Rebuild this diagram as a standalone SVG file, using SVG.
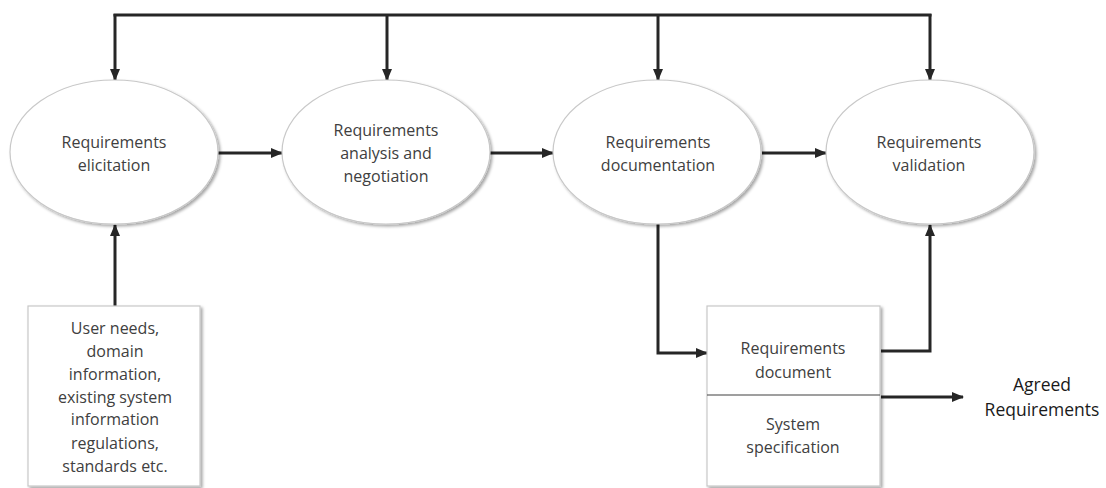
<svg xmlns="http://www.w3.org/2000/svg" width="1106" height="488" viewBox="0 0 1106 488">
<style>
.node ellipse, .node rect { fill: #ffffff; stroke: #c8c8c8; stroke-width: 1.2; filter: url(#sh); }
.t { font-family: "Open Sans", "Liberation Sans", sans-serif; font-size: 16px; fill: #404040; text-anchor: middle; }
.t2 { font-family: "Open Sans", "Liberation Sans", sans-serif; font-size: 17.5px; fill: #1a1a1a; text-anchor: middle; }
.c { fill: none; stroke: #262626; stroke-width: 3; marker-end: url(#ah); }
.cl { fill: none; stroke: #262626; stroke-width: 3; }
</style>
<defs>
<filter id="sh" x="-10%" y="-10%" width="125%" height="125%">
<feDropShadow dx="2" dy="2" stdDeviation="1.5" flood-color="#000" flood-opacity="0.35"/>
</filter>
<marker id="ah" markerUnits="userSpaceOnUse" markerWidth="12" markerHeight="12" viewBox="0 0 12 12" refX="11" refY="6" orient="auto">
<path d="M0,1 L12,6 L0,11 Z" fill="#262626"/>
</marker>
</defs>
<rect width="1106" height="488" fill="#ffffff"/>

<g id="connectors">
<path class="cl" d="M113.5,15 H931.5"/>
<path class="c" d="M115,14 V80"/>
<path class="c" d="M387,15 V80"/>
<path class="c" d="M658,15 V80"/>
<path class="c" d="M930,14 V80"/>
<path class="c" d="M218,153 H282"/>
<path class="c" d="M490,153 H553"/>
<path class="c" d="M762,153 H826"/>
<path class="c" d="M115,306 V225"/>
<path class="c" d="M658,224 V353 H707"/>
<path class="c" d="M881,351 H930 V225"/>
<path class="c" d="M881,397 H963"/>
</g>

<g id="elicitation" class="node">
<ellipse cx="114" cy="152" rx="104" ry="72"/>
<text class="t" x="114" y="148">Requirements</text>
<text class="t" x="114" y="171">elicitation</text>
</g>
<g id="analysis" class="node">
<ellipse cx="386" cy="152" rx="104" ry="72"/>
<text class="t" x="386" y="136">Requirements</text>
<text class="t" x="386" y="159">analysis and</text>
<text class="t" x="386" y="182">negotiation</text>
</g>
<g id="documentation" class="node">
<ellipse cx="657" cy="152" rx="104" ry="72"/>
<text class="t" x="658" y="148">Requirements</text>
<text class="t" x="658" y="171">documentation</text>
</g>
<g id="validation" class="node">
<ellipse cx="930" cy="152" rx="104" ry="72"/>
<text class="t" x="929" y="148">Requirements</text>
<text class="t" x="929" y="171">validation</text>
</g>

<g id="inputs" class="node">
<rect x="28" y="306" width="172" height="180"/>
<text class="t" x="115" y="334">User needs,</text>
<text class="t" x="115" y="357">domain</text>
<text class="t" x="115" y="380">information,</text>
<text class="t" x="115" y="403">existing system</text>
<text class="t" x="115" y="425">information</text>
<text class="t" x="115" y="449">regulations,</text>
<text class="t" x="115" y="472">standards etc.</text>
</g>

<g id="document" class="node">
<rect x="707" y="306" width="173" height="180"/>
<line x1="707" y1="395" x2="880" y2="395" stroke="#404040" stroke-width="1.2"/>
<text class="t" x="793" y="354">Requirements</text>
<text class="t" x="793" y="378">document</text>
<text class="t" x="793" y="430">System</text>
<text class="t" x="793" y="453">specification</text>
</g>

<g id="agreed">
<text class="t2" x="1042" y="391">Agreed</text>
<text class="t2" x="1042" y="416">Requirements</text>
</g>
</svg>
